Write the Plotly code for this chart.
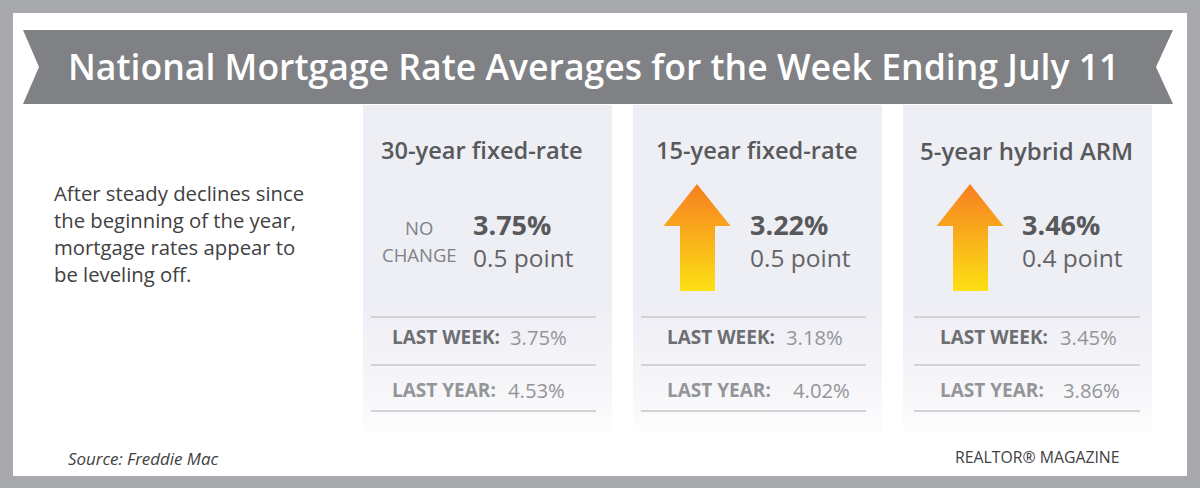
import plotly.graph_objects as go

TITLE = "National Mortgage Rate Averages for the Week Ending July 11"
NOTE_LINES = ["After steady declines since", "the beginning of the year,", "mortgage rates appear to", "be leveling off."]
SOURCE = "Source: Freddie Mac"
CREDIT = "REALTOR® MAGAZINE"

products = ["30-year fixed-rate", "15-year fixed-rate", "5-year hybrid ARM"]
current_rates = ["3.75%", "3.22%", "3.46%"]
points = ["0.5 point", "0.5 point", "0.4 point"]
last_week = ["3.75%", "3.18%", "3.45%"]
last_year = ["4.53%", "4.02%", "3.86%"]
rising = [False, True, True]

DARK = "#58595b"
MID = "#808285"
LIGHT = "#939598"
FRAME = "#a7a9ac"
BANNER = "#808184"
PANEL = "#eeeef5"
RULE = "#d1d3d4"
FONT = "Open Sans"

panel_x = [363, 633, 903]
panel_w = 249
rule_x = [(371, 596), (641, 866), (914, 1140)]
head_cx = [482, 757, 1026]
head_size = [23.6, 23.6, 24.0]
rate_x = [473, 750, 1022]
label_x = [392, 667, 940]
week_val_x = [510, 786, 1060]
year_val_x = [508, 793, 1063]
arrow_cx = [None, 697, 970]

fig = go.Figure()
shapes = []
annotations = []


def text(x, y, s, size, color=DARK, anchor="left", weight=None, style=None):
    off = {"left": -2, "right": 2, "center": 0}[anchor]
    annotations.append(dict(
        x=x + off, y=y, text=s, showarrow=False, xanchor=anchor, yanchor="middle",
        xref="x", yref="y", align=anchor,
        font=dict(family=FONT, size=size, color=color,
                  weight=weight if weight else "normal",
                  style=style if style else "normal"),
    ))


# frame
shapes.append(dict(type="rect", x0=0, x1=1200, y0=0, y1=488, line_width=0, fillcolor=FRAME, layer="below"))
shapes.append(dict(type="rect", x0=13, x1=1187, y0=13, y1=476, line_width=0, fillcolor="white", layer="below"))
# banner
shapes.append(dict(
    type="path",
    path="M23 30 L1173 30 L1156 67 L1173 104 L23 104 L39 67 Z",
    line_width=0, fillcolor=BANNER, layer="below",
))

# panels, with a vertical fade towards white at the bottom
for px in panel_x:
    fig.add_trace(go.Scatter(
        x=[px, px + panel_w, px + panel_w, px, px],
        y=[105, 105, 432, 432, 105],
        mode="none", fill="toself", hoverinfo="skip", showlegend=False,
        fillgradient=dict(
            type="vertical",
            colorscale=[[0, "#fdfdfe"], [0.12, "#f7f7fa"], [0.38, PANEL], [1, PANEL]],
        ),
    ))

# arrows
for cx, up in zip(arrow_cx, rising):
    if not up:
        continue
    fig.add_trace(go.Scatter(
        x=[cx, cx + 33.5, cx + 18, cx + 18, cx - 17, cx - 17, cx - 33.5, cx],
        y=[184, 226, 226, 291, 291, 226, 226, 184],
        mode="none", fill="toself", hoverinfo="skip", showlegend=False,
        fillgradient=dict(
            type="vertical",
            colorscale=[[0, "#fde014"], [1, "#f67f21"]],
        ),
    ))

for i in range(3):
    for ry in (317, 365, 411):
        shapes.append(dict(type="line", x0=rule_x[i][0], x1=rule_x[i][1], y0=ry, y1=ry,
                           line=dict(color=RULE, width=2), layer="above"))
    text(head_cx[i], 150, products[i], head_size[i], DARK, "center", weight=600)
    block = (f'<b><span style="font-size:27px;color:{DARK}">{current_rates[i]}</span></b>'
             f'<br>{points[i]}')
    text(rate_x[i], 239.5, block, 24.5, "#636466")
    text(label_x[i], 337, "LAST WEEK:", 19, "#6d6e71", weight=700)
    text(week_val_x[i], 337, last_week[i], 20.3, LIGHT)
    text(label_x[i], 390, "LAST YEAR:", 19, LIGHT, weight=700)
    text(year_val_x[i], 390, last_year[i], 20.3, LIGHT)

text(419, 227, "NO", 18.5, MID, "center")
text(419, 254, "CHANGE", 18.5, MID, "center")

text(68, 66, TITLE, 35.6, "white", weight=600)
for ly, line in zip((193, 220, 247, 274), NOTE_LINES):
    text(54, ly, line, 20.3, "#414042")
text(68, 458, SOURCE, 16.9, "#414042", style="italic")
text(1120, 457, CREDIT, 15.8, "#414042", "right")

fig.update_layout(
    width=1200, height=488,
    margin=dict(l=0, r=0, t=0, b=0, pad=0),
    paper_bgcolor="white", plot_bgcolor="white",
    showlegend=False, hovermode=False,
    shapes=shapes, annotations=annotations,
    xaxis=dict(range=[0, 1200], visible=False, fixedrange=True),
    yaxis=dict(range=[488, 0], visible=False, fixedrange=True),
)
fig.write_html("out.html", config={"displayModeBar": False},
               post_script="document.body.style.margin='0';document.body.style.overflow='hidden';")
